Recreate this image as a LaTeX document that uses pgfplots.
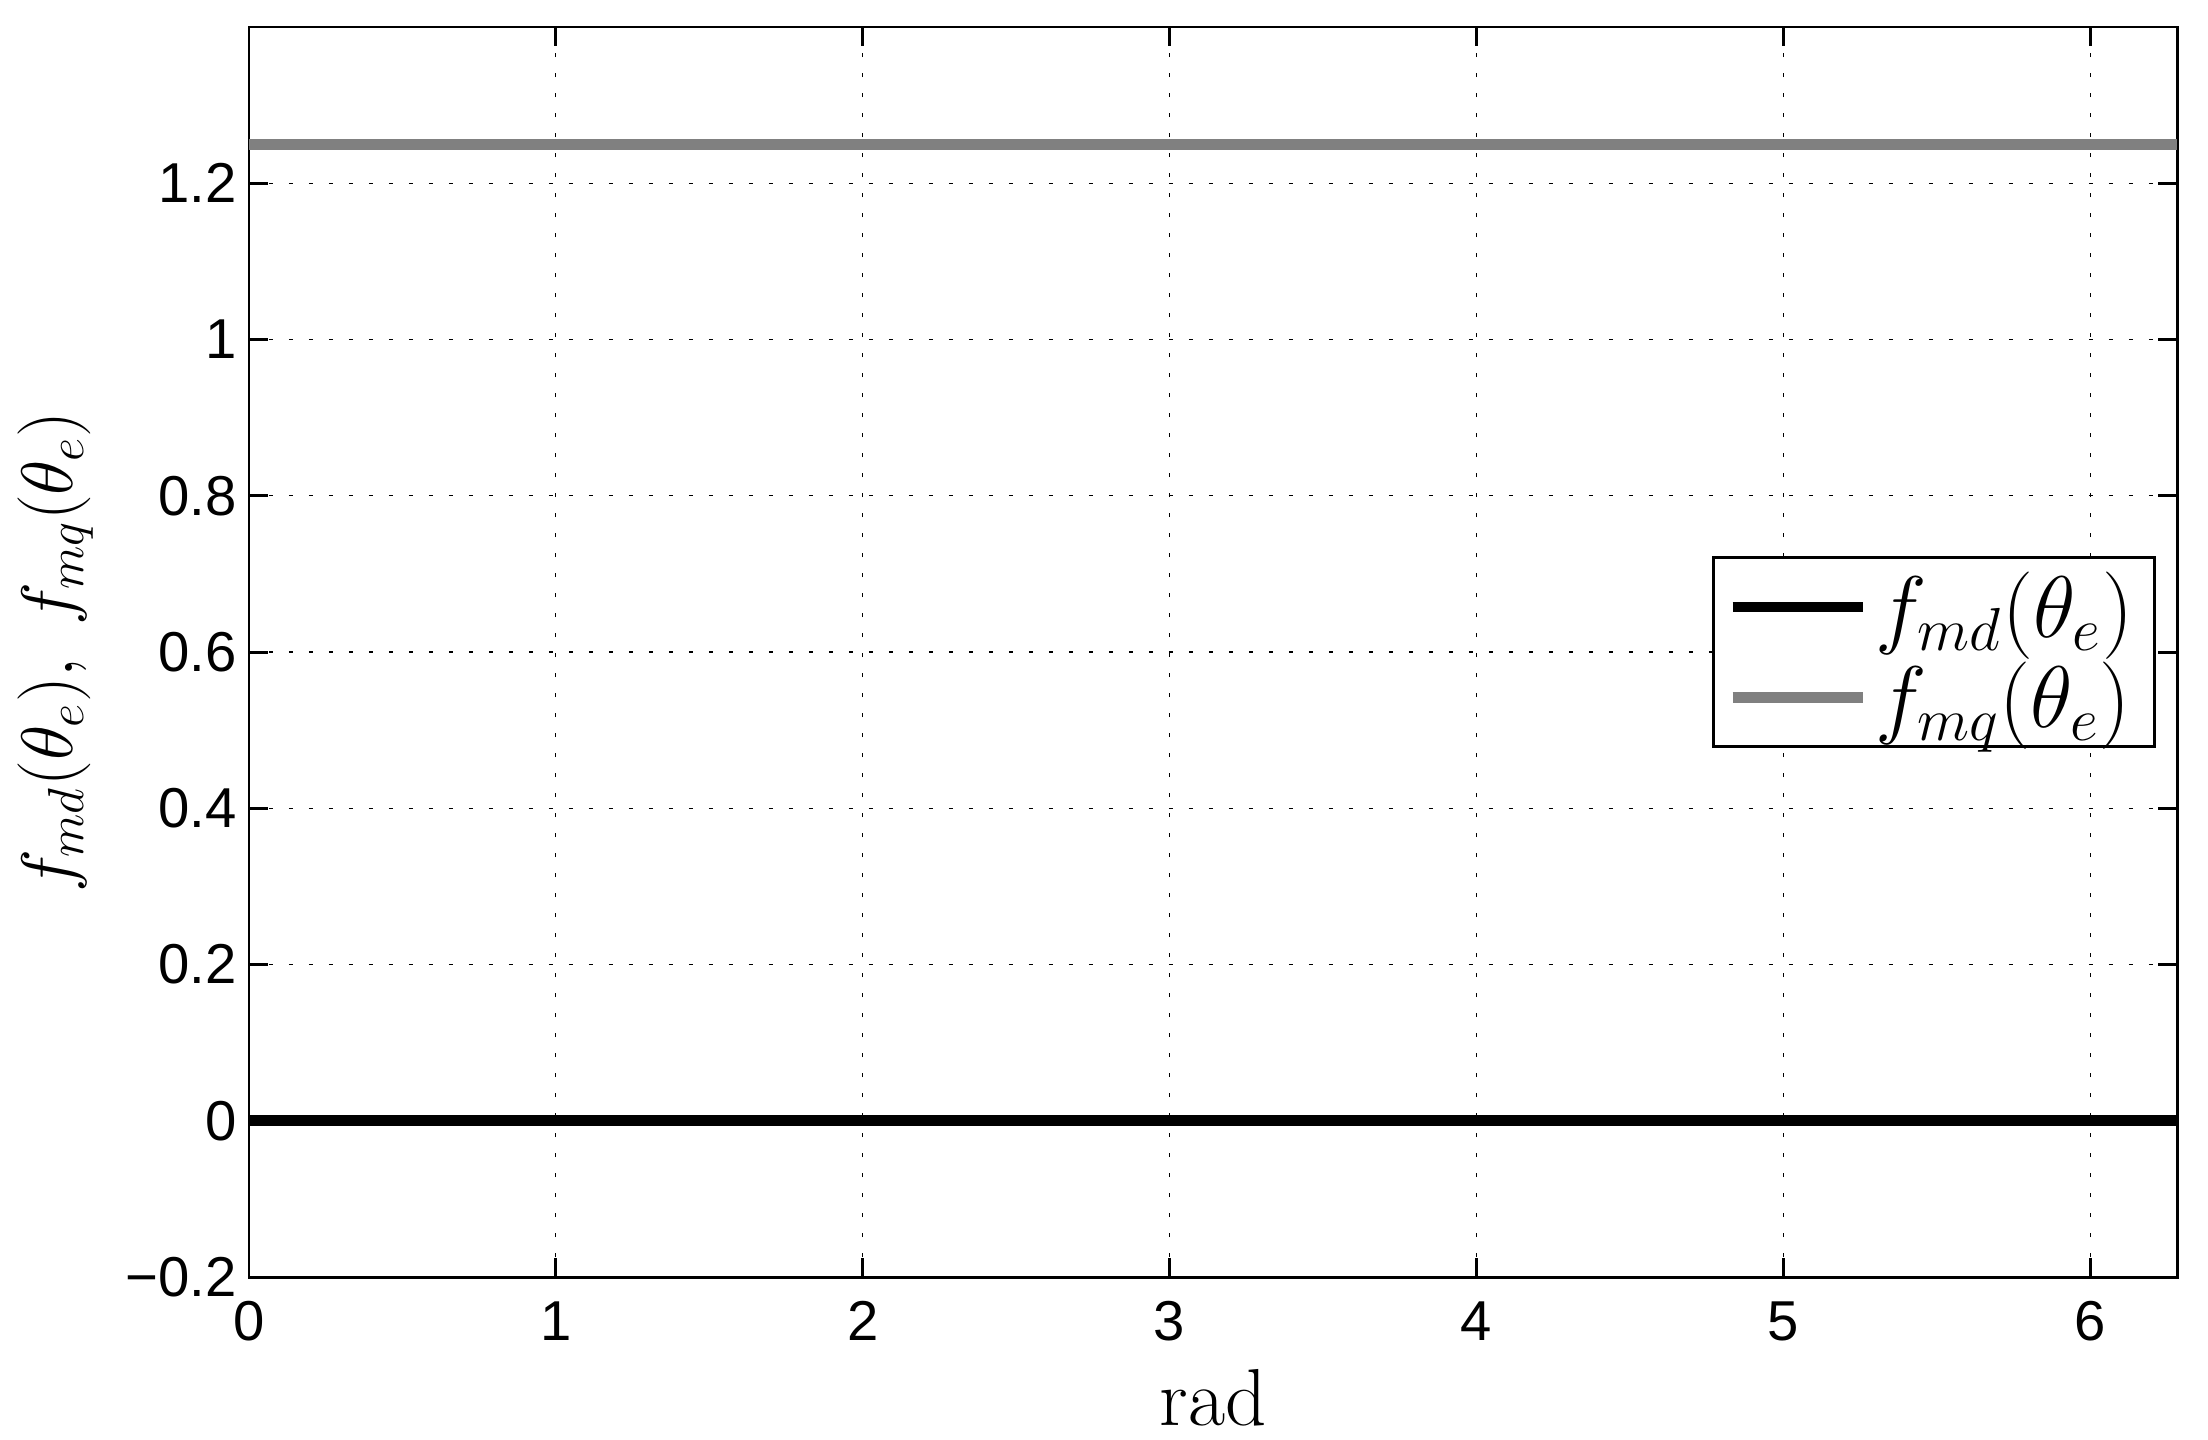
\documentclass[border=0pt]{standalone}
\usepackage{fontspec}
\usepackage{pgfplots}
\pgfplotsset{compat=1.18}
\usetikzlibrary{calc}
\newfontfamily\helv{Liberation Sans}
\definecolor{mgray}{RGB}{128,128,128}
\begin{document}
\begin{tikzpicture}
\useasboundingbox (-2.49,-1.62) rectangle (19.59,12.77);
\begin{axis}[at={(0,0)}, anchor=south west, scale only axis,
  width=19.28cm, height=12.50cm,
  xmin=0, xmax=6.2832, ymin=-0.2, ymax=1.4,
  xtick={0,1,2,3,4,5,6}, xticklabels={0,1,2,3,4,5,6},
  ytick={-0.2,0,0.2,0.4,0.6,0.8,1,1.2},
  yticklabels={−0.2,0,0.2,0.4,0.6,0.8,1,1.2},
  tick label style={font=\helv\fontsize{16}{19}\selectfont},
  xticklabel style={yshift=-0.12cm},
  tick align=inside, major tick length=0.19cm,
  every tick/.style={black, line width=0.85pt},
  axis line style={line width=0.85pt},
  grid=major,
  major grid style={black, line width=0.35pt, dash pattern=on 0.04cm off 0.16cm},
  xlabel={rad},
  ylabel={$f_{md}(\theta_e),\; f_{mq}(\theta_e)$},
  every axis x label/.style={at={($(rel axis cs:0.5,0)+(0,-1.21cm)$)}, anchor=center,
    font=\fontsize{23}{28}\selectfont},
  every axis y label/.style={at={($(rel axis cs:0,0.5)+(-1.93cm,0)$)}, anchor=center, rotate=90,
    font=\fontsize{22.5}{27}\selectfont},
  legend style={at={(rel axis cs:0.989,0.5)}, anchor=east, draw=black, line width=0.85pt,
    font=\fontsize{23}{28}\selectfont, inner xsep=4pt, inner ysep=2pt,
    row sep=1.5pt},
  legend cell align=left,
  legend image code/.code={\draw[#1, line width=3.1pt] (0cm,0cm) -- (1.3cm,0cm);},
]
\addplot[black, line width=3.1pt] coordinates {(0,0) (6.2832,0)};
\addlegendentry{$f_{md}(\theta_e)$}
\addplot[mgray, line width=3.1pt] coordinates {(0,1.25) (6.2832,1.25)};
\addlegendentry{$f_{mq}(\theta_e)$}
\end{axis}
\end{tikzpicture}
\end{document}
